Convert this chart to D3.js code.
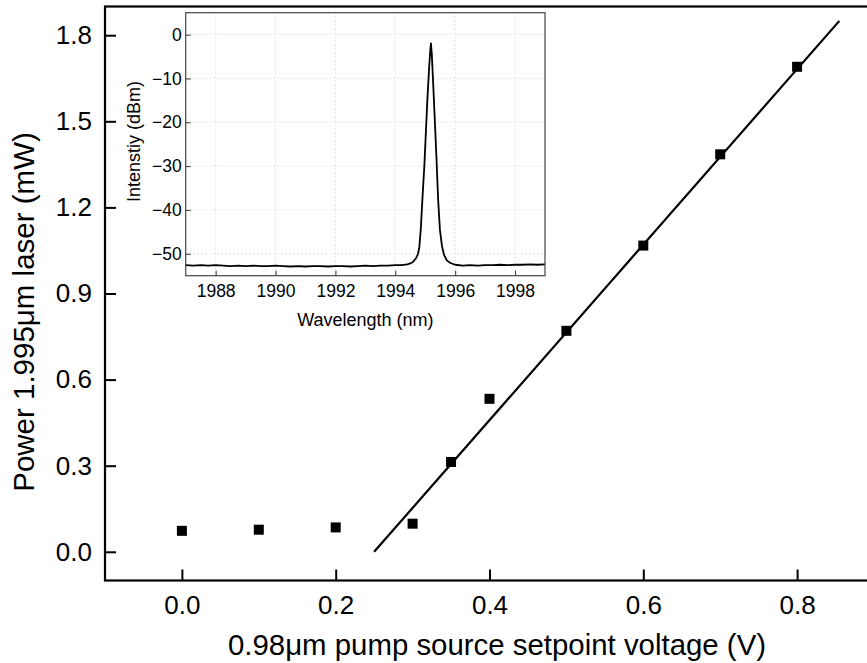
<!DOCTYPE html>
<html>
<head>
<meta charset="utf-8">
<script src="https://cdn.jsdelivr.net/npm/d3@7"></script>
<style>
  html, body { margin: 0; padding: 0; background: #fff; }
  svg { display: block; font-family: "Liberation Sans", Arial, sans-serif; }
</style>
</head>
<body>
<svg id="chart" width="867" height="663"></svg>
<script>
// ---------- Main chart data ----------
const voltage = [0.0, 0.1, 0.2, 0.3, 0.35, 0.4, 0.5, 0.6, 0.7, 0.8];
const power   = [0.073, 0.077, 0.085, 0.098, 0.313, 0.533, 0.77, 1.067, 1.385, 1.69];
const fitX = [0.25, 0.855];
const fitY = [0.0, 1.85];
const xTicks = [0.0, 0.2, 0.4, 0.6, 0.8];
const yTicks = [0.0, 0.3, 0.6, 0.9, 1.2, 1.5, 1.8];
const xTitle = "0.98μm pump source setpoint voltage (V)";
const yTitle = "Power 1.995μm laser (mW)";

// ---------- Inset spectrum data ----------
const wavelength = [1987.0, 1987.25, 1987.5, 1987.75, 1988.0, 1988.25, 1988.5, 1988.75,
  1989.0, 1989.25, 1989.5, 1989.75, 1990.0, 1990.25, 1990.5, 1990.75,
  1991.0, 1991.25, 1991.5, 1991.75, 1992.0, 1992.25, 1992.5, 1992.75,
  1993.0, 1993.25, 1993.5, 1993.75, 1994.0, 1994.2, 1994.4, 1994.5,
  1994.6, 1994.7, 1994.76, 1994.8, 1994.85, 1994.91, 1994.97, 1995.02,
  1995.07, 1995.13, 1995.17, 1995.19, 1995.22, 1995.26, 1995.32, 1995.38,
  1995.43, 1995.49, 1995.56, 1995.63, 1995.72, 1995.84, 1996.0, 1996.25,
  1996.5, 1996.75, 1997.0, 1997.25, 1997.5, 1997.75, 1998.0, 1998.25,
  1998.5, 1998.75, 1999.0];
const intensity = [-52.6, -52.7, -52.6, -52.7, -52.6, -52.7, -52.8, -52.7,
  -52.8, -52.7, -52.8, -52.8, -52.7, -52.8, -52.9, -52.8,
  -52.9, -52.8, -52.8, -52.9, -52.8, -52.8, -52.9, -52.8,
  -52.7, -52.8, -52.7, -52.7, -52.6, -52.6, -52.4, -52.2,
  -51.8, -50.9, -50.0, -48.6, -44.5, -37.0, -30.0, -22.5,
  -15.0, -7.5, -3.5, -2.0, -4.5, -10.4, -19.5, -29.0,
  -37.5, -44.5, -48.3, -50.3, -51.5, -52.1, -52.5, -52.7,
  -52.6, -52.7, -52.6, -52.6, -52.5, -52.6, -52.5, -52.5,
  -52.4, -52.5, -52.4];
const insetXTicks = [1988, 1990, 1992, 1994, 1996, 1998];
const insetYTicks = [0, -10, -20, -30, -40, -50];
const insetXTitle = "Wavelength (nm)";
const insetYTitle = "Intenstiy (dBm)";

const svg = d3.select("#chart");
svg.append("rect").attr("width", 867).attr("height", 663).attr("fill", "#fff");

// ---------- Main scales ----------
const x = d3.scaleLinear().domain([-0.1, 0.9]).range([105, 874]);
const y = d3.scaleLinear().domain([-0.1, 1.9]).range([580.5, 6.5]);

// frame
const frame = svg.append("g").attr("stroke", "#000").attr("stroke-width", 2.2).attr("fill", "none");
frame.append("rect")
  .attr("x", x(-0.1)).attr("y", y(1.9))
  .attr("width", x(0.9) - x(-0.1)).attr("height", y(-0.1) - y(1.9));

const xAxis = svg.append("g")
  .attr("transform", `translate(0,${y(-0.1)})`)
  .call(d3.axisBottom(x).tickValues(xTicks).tickFormat(d3.format(".1f")).tickSize(-11).tickPadding(15));
const yAxis = svg.append("g")
  .attr("transform", `translate(${x(-0.1)},0)`)
  .call(d3.axisLeft(y).tickValues(yTicks).tickFormat(d3.format(".1f")).tickSize(-11).tickPadding(13));
[xAxis, yAxis].forEach(g => {
  g.select(".domain").remove();
  g.selectAll(".tick line").attr("stroke", "#000").attr("stroke-width", 2);
  g.selectAll(".tick text").attr("fill", "#000").style("font-size", "26px")
    .style("font-family", '"Liberation Sans", Arial, sans-serif');
});

// axis titles
svg.append("text")
  .attr("x", 497).attr("y", 655)
  .attr("text-anchor", "middle").attr("fill", "#000")
  .style("font-size", "29.4px").text(xTitle);
svg.append("text")
  .attr("transform", `translate(34,${312}) rotate(-90)`)
  .attr("text-anchor", "middle").attr("fill", "#000")
  .style("font-size", "29.5px").text(yTitle);

// fit line
const line = d3.line().x(d => x(d[0])).y(d => y(d[1]));
svg.append("path")
  .datum(fitX.map((v, i) => [v, fitY[i]]))
  .attr("d", line).attr("fill", "none").attr("stroke", "#000").attr("stroke-width", 2.2);

// data squares
const sz = 10;
svg.append("g").selectAll("rect")
  .data(voltage.map((v, i) => [v, power[i]]))
  .join("rect")
  .attr("x", d => x(d[0]) - sz / 2).attr("y", d => y(d[1]) - sz / 2)
  .attr("width", sz).attr("height", sz).attr("fill", "#000");

// ---------- Inset ----------
const ix = d3.scaleLinear().domain([1987, 1999]).range([185.7, 545]);
const iy = d3.scaleLinear().domain([-55, 5]).range([275.7, 12.7]);
const inset = svg.append("g");

inset.append("rect")
  .attr("x", ix(1987)).attr("y", iy(5))
  .attr("width", ix(1999) - ix(1987)).attr("height", iy(-55) - iy(5))
  .attr("fill", "#fff");

// grid
const grid = inset.append("g").attr("stroke", "#c8c8c8").attr("stroke-width", 1)
  .attr("stroke-dasharray", "1,3");
grid.selectAll(".gx").data(insetXTicks).join("line")
  .attr("x1", d => ix(d)).attr("x2", d => ix(d))
  .attr("y1", iy(5)).attr("y2", iy(-55));
grid.selectAll(".gy").data(insetYTicks).join("line")
  .attr("y1", d => iy(d)).attr("y2", d => iy(d))
  .attr("x1", ix(1987)).attr("x2", ix(1999));

const ixAxis = inset.append("g")
  .attr("transform", `translate(0,${iy(-55)})`)
  .call(d3.axisBottom(ix).tickValues(insetXTicks).tickFormat(d3.format("d")).tickSize(-5).tickPadding(9));
const iyAxis = inset.append("g")
  .attr("transform", `translate(${ix(1987)},0)`)
  .call(d3.axisLeft(iy).tickValues(insetYTicks).tickFormat(d3.format("d")).tickSize(-5).tickPadding(4));
[ixAxis, iyAxis].forEach(g => {
  g.select(".domain").remove();
  g.selectAll(".tick line").attr("stroke", "#333").attr("stroke-width", 1);
  g.selectAll(".tick text").attr("fill", "#000").style("font-size", "17.5px")
    .style("font-family", '"Liberation Sans", Arial, sans-serif');
});

// spectrum
const sline = d3.line().x(d => ix(d[0])).y(d => iy(d[1]));
inset.append("path")
  .datum(wavelength.map((w, i) => [w, intensity[i]]))
  .attr("d", sline).attr("fill", "none").attr("stroke", "#000").attr("stroke-width", 1.8)
  .attr("stroke-linejoin", "round");

inset.append("rect")
  .attr("x", ix(1987)).attr("y", iy(5))
  .attr("width", ix(1999) - ix(1987)).attr("height", iy(-55) - iy(5))
  .attr("fill", "none").attr("stroke", "#444").attr("stroke-width", 1.2);

inset.append("text")
  .attr("x", (ix(1987) + ix(1999)) / 2).attr("y", 326)
  .attr("text-anchor", "middle").attr("fill", "#000")
  .style("font-size", "18px").text(insetXTitle);
inset.append("text")
  .attr("transform", `translate(140,${141.5}) rotate(-90)`)
  .attr("text-anchor", "middle").attr("fill", "#000")
  .style("font-size", "18px").text(insetYTitle);
</script>
</body>
</html>
